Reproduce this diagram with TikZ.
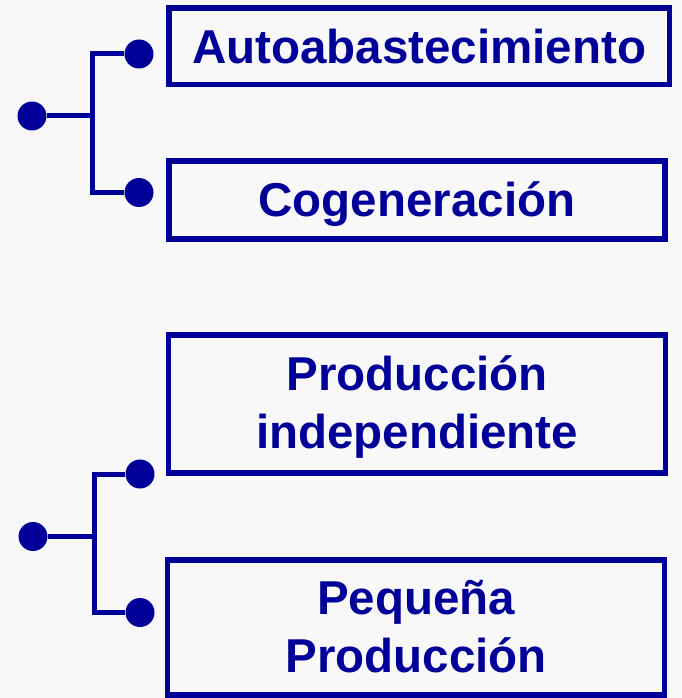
\documentclass[tikz,border=0pt]{standalone}
\usepackage{fontspec}
\setmainfont{Liberation Sans}
\definecolor{navy}{HTML}{000099}
\definecolor{bg}{HTML}{F8F8F8}
\tikzset{
  box/.style={draw=navy, line width=5.5pt, inner sep=0pt, text=navy,
    font=\fontsize{47.5}{57.5}\selectfont\bfseries, align=center},
  dot/.style={circle, fill=navy, inner sep=0pt, minimum size=29pt},
  conn/.style={draw=navy, line width=5pt}
}
\begin{document}
\begin{tikzpicture}[x=1pt,y=-1pt]
\fill[bg] (0,0) rectangle (681,698);
\useasboundingbox (0,0) rectangle (681,698);
% boxes
\node[box, minimum width=500.5pt, minimum height=76.5pt, text height=34.4pt, text depth=-6.5pt] (b1) at (419.25,46.25) {Autoabastecimiento};
\node[box, minimum width=496pt, minimum height=77.8pt, text height=34pt, text depth=2pt] (b2) at (417,200) {Cogeneración};
\node[box, minimum width=497pt, minimum height=137.7pt, text height=91.6pt, text depth=2.8pt] (b3) at (417,403.9) {Producción\\independiente};
\node[box, minimum width=497pt, minimum height=134.7pt, text height=90pt, text depth=-1.8pt] (b4) at (416,627.4) {Pequeña\\Producción};
% top group
\node[dot] (l1) at (32,116) {};
\node[dot] (r1a) at (139,54) {};
\node[dot] (r1b) at (139,192.5) {};
\coordinate (j1) at (92.5,116);
\draw[conn] (l1) -- (j1);
\draw[conn] (r1a) -| (j1) |- (r1b);
% bottom group
\node[dot] (l2) at (33,536.5) {};
\node[dot] (r2a) at (140,474) {};
\node[dot] (r2b) at (140,612.5) {};
\coordinate (j2) at (94.5,536.5);
\draw[conn] (l2) -- (j2);
\draw[conn] (r2a) -| (j2) |- (r2b);
\end{tikzpicture}
\end{document}
